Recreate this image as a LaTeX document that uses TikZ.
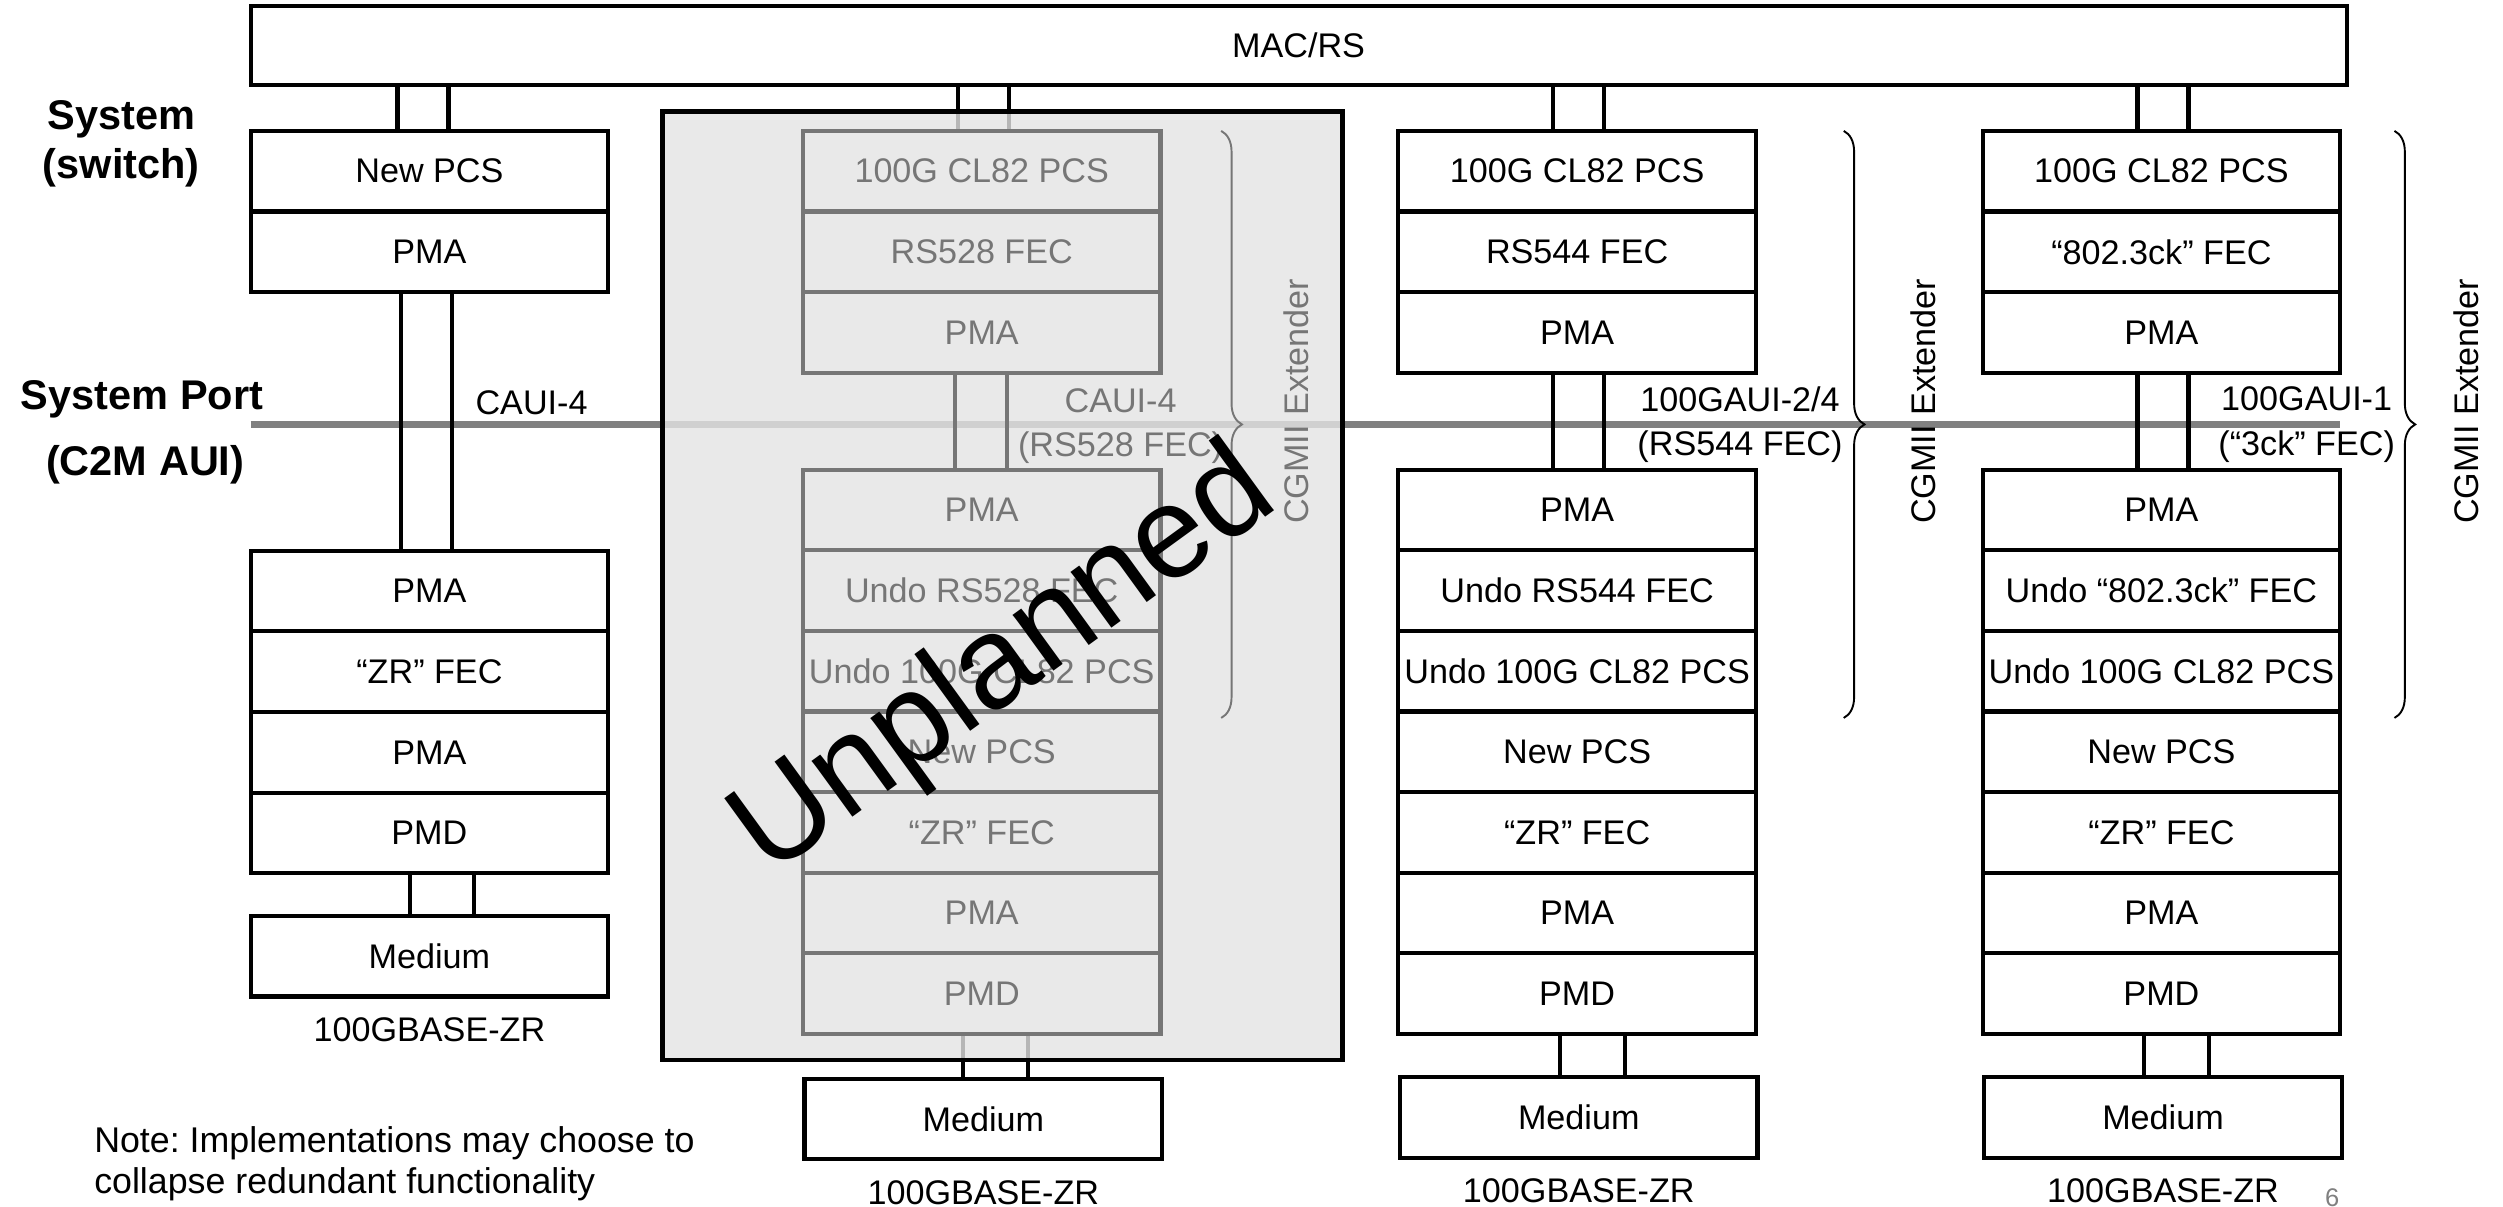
\documentclass[tikz,border=0pt]{standalone}
\usepackage{fontspec}
\setmainfont{Liberation Sans}
\usetikzlibrary{positioning,decorations.pathreplacing,backgrounds}
\definecolor{ghostgray}{RGB}{118,118,118}
\definecolor{portgray}{RGB}{128,128,128}
\definecolor{plangray}{RGB}{228,228,228}
\newcommand{\lbl}{\fontsize{10.7}{14}\selectfont}
\frenchspacing
\tikzset{
  layer/.style={draw, line width=1.3pt, minimum width=112pt, minimum height=25.25pt,
                inner sep=0pt, outer sep=0pt, font=\lbl},
  ghost/.style={layer, draw=ghostgray, text=ghostgray},
  link/.style={line width=1.3pt},
  glink/.style={link, draw=ghostgray},
  ext/.style={decorate, decoration={brace, amplitude=6.5pt}, line width=0.6pt},
  extlabel/.style={rotate=90, font=\lbl},
  port/.style={font=\lbl, align=center},
  side/.style={font=\fontsize{13}{15.5}\selectfont\bfseries, align=center},
  planbox/.style={draw, line width=1.5pt, fill=plangray, fill opacity=0.8, draw opacity=1},
}

\begin{document}
\begin{tikzpicture}[x=0.5pt, y=-0.5pt]
  \useasboundingbox (0,0) rectangle (1568,756);
  % MAC
  \node[layer, minimum width=656.5pt, minimum height=24.5pt] (mac) at (813.5,28.5) {MAC/RS};

  % side labels
  \node[side] (sys) at (76,90) {System\\(switch)};
  \node[side] (sysport) at (89,250) {System Port};
  \node[side] (c2m) at (91,291) {(C2M AUI)};

  % 100GBASE-ZR, new PCS in the switch
  \node[layer] (a1) at (269,107.25) {New PCS};
  \node[layer, below=0pt of a1] (a2) {PMA};
  \node[layer] (a3) at (269,370.25) {PMA};
  \node[layer, below=0pt of a3] (a4) {“ZR” FEC};
  \node[layer, below=0pt of a4] (a5) {PMA};
  \node[layer, below=0pt of a5] (a6) {PMD};
  \node[layer] (a7) at (269,599) {Medium};
  \node[port, below=3pt of a7] (a8) {100GBASE-ZR};
  \draw[link] ([xshift=-10pt]a1.north) rectangle ([xshift=6pt]a1.north |- mac.south);
  \draw[link] ([xshift=-9pt]a2.south) rectangle ([xshift=7pt]a3.north);
  \draw[link] ([xshift=-6pt]a6.south) rectangle ([xshift=14pt]a7.north);
  \node[port] (p1) at (333,252) {CAUI-4};

  % unplanned: RS528 over CAUI-4
  \node[ghost] (b1) at (615,107.25) {100G CL82 PCS};
  \node[ghost, below=0pt of b1] (b2) {RS528 FEC};
  \node[ghost, below=0pt of b2] (b3) {PMA};
  \node[ghost] (b4) at (615,319.5) {PMA};
  \node[ghost, below=0pt of b4] (b5) {Undo RS528 FEC};
  \node[ghost, below=0pt of b5] (b6) {Undo 100G CL82 PCS};
  \node[ghost, below=0pt of b6] (b7) {New PCS};
  \node[ghost, below=0pt of b7] (b8) {“ZR” FEC};
  \node[ghost, below=0pt of b8] (b9) {PMA};
  \node[ghost, below=0pt of b9] (b10) {PMD};
  \node[layer] (b11) at (616,701) {Medium};
  \node[port, below=3pt of b11] (b12) {100GBASE-ZR};
  \draw[glink] ([xshift=-8.5pt]b3.south) rectangle ([xshift=8pt]b4.north);
  \node[port, text=ghostgray] (p2) at (702,267) {CAUI-4\\(RS528 FEC)};
  \draw[ext, ghostgray] ([xshift=19pt]b1.north east) -- ([xshift=19pt, yshift=-2pt]b6.south east);
  \node[extlabel, text=ghostgray] (x2) at (812,251.5) {CGMII Extender};

  % RS544 over 100GAUI-2/4
  \node[layer] (c1) at (988,107.25) {100G CL82 PCS};
  \node[layer, below=0pt of c1] (c2) {RS544 FEC};
  \node[layer, below=0pt of c2] (c3) {PMA};
  \node[layer] (c4) at (988,319.5) {PMA};
  \node[layer, below=0pt of c4] (c5) {Undo RS544 FEC};
  \node[layer, below=0pt of c5] (c6) {Undo 100G CL82 PCS};
  \node[layer, below=0pt of c6] (c7) {New PCS};
  \node[layer, below=0pt of c7] (c8) {“ZR” FEC};
  \node[layer, below=0pt of c8] (c9) {PMA};
  \node[layer, below=0pt of c9] (c10) {PMD};
  \node[layer] (c11) at (989,700) {Medium};
  \node[port, below=3pt of c11] (c12) {100GBASE-ZR};
  \draw[link] ([xshift=-7.5pt]c1.north) rectangle ([xshift=8.5pt]c1.north |- mac.south);
  \draw[link] ([xshift=-7.5pt]c3.south) rectangle ([xshift=8.5pt]c4.north);
  \draw[link] ([xshift=-5.5pt]c10.south) rectangle ([xshift=14.5pt]c11.north);
  \node[port] (p3) at (1090,266) {100GAUI-2/4\\(RS544 FEC)};
  \draw[ext] ([xshift=27.5pt]c1.north east) -- ([xshift=27.5pt, yshift=-2pt]c6.south east);
  \node[extlabel] (x3) at (1205,251.5) {CGMII Extender};

  % 802.3ck FEC over 100GAUI-1
  \node[layer] (d1) at (1354,107.25) {100G CL82 PCS};
  \node[layer, below=0pt of d1] (d2) {“802.3ck” FEC};
  \node[layer, below=0pt of d2] (d3) {PMA};
  \node[layer] (d4) at (1354,319.5) {PMA};
  \node[layer, below=0pt of d4] (d5) {Undo “802.3ck” FEC};
  \node[layer, below=0pt of d5] (d6) {Undo 100G CL82 PCS};
  \node[layer, below=0pt of d6] (d7) {New PCS};
  \node[layer, below=0pt of d7] (d8) {“ZR” FEC};
  \node[layer, below=0pt of d8] (d9) {PMA};
  \node[layer, below=0pt of d9] (d10) {PMD};
  \node[layer] (d11) at (1355,700) {Medium};
  \node[port, below=3pt of d11] (d12) {100GBASE-ZR};
  \draw[link] ([xshift=-7.5pt]d1.north) rectangle ([xshift=8.5pt]d1.north |- mac.south);
  \draw[link] ([xshift=-7.5pt]d3.south) rectangle ([xshift=8.5pt]d4.north);
  \draw[link] ([xshift=-5.5pt]d10.south) rectangle ([xshift=14.5pt]d11.north);
  \node[port] (p4) at (1445,266) {100GAUI-1\\(“3ck” FEC)};
  \draw[ext] ([xshift=17pt]d1.north east) -- ([xshift=17pt, yshift=-2pt]d6.south east);
  \node[extlabel] (x4) at (1545,251.5) {CGMII Extender};

  % system port line and the unplanned box behind
  \coordinate (portL) at (157,266);
  \coordinate (portR) at (1466,266);
  \begin{scope}[on background layer]
    \draw[portgray, line width=2pt] (portL) -- (portR);
    \draw[link] ([xshift=-7.5pt]b1.north) rectangle ([xshift=8.5pt]b1.north |- mac.south);
    \draw[link] ([xshift=-6pt]b10.south) rectangle ([xshift=14pt]b11.north);
    \node[planbox, minimum width=213pt, minimum height=297pt] (plan) at (628,367) {};
  \end{scope}

  \node[port, anchor=west, align=left, font=\fontsize{11.2}{12.8}\selectfont] (note) at (52,729)
    {Note: Implementations may choose to\\collapse redundant functionality};
  \node[text=gray, font=\fontsize{8}{9}\selectfont] (page) at (1461,750) {6};

  \node[rotate=36, font=\fontsize{41}{48}\selectfont] (unplanned) at (630,416) {Unplanned};
\end{tikzpicture}
\end{document}
